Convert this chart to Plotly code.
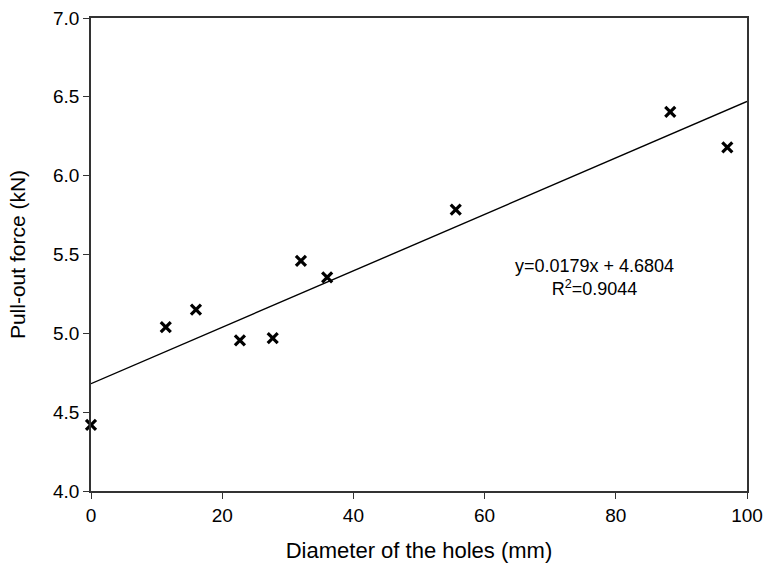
import plotly.graph_objects as go

# Hole diameter (mm) and measured pull-out force (kN)
diameter = [0, 11.4, 16.0, 22.7, 27.7, 32.0, 36.0, 55.6, 88.3, 97.0]
force = [4.42, 5.04, 5.15, 4.955, 4.97, 5.46, 5.355, 5.785, 6.405, 6.18]

# Linear fit reported on the chart
slope = 0.0179
intercept = 4.6804
r_squared = 0.9044
fit_x = [0, 100]
fit_y = [intercept + slope * v for v in fit_x]

x_ticks = [0, 20, 40, 60, 80, 100]
y_ticks = [4.0, 4.5, 5.0, 5.5, 6.0, 6.5, 7.0]

font_family = "Arial, Liberation Sans, sans-serif"

fig = go.Figure()
fig.add_trace(go.Scatter(
    x=fit_x, y=fit_y, mode="lines",
    line=dict(color="black", width=1.4),
    showlegend=False, hoverinfo="skip",
))
fig.add_trace(go.Scatter(
    x=diameter, y=force, mode="markers", cliponaxis=False,
    marker=dict(symbol="x-thin-open", size=10, color="black",
                line=dict(color="black", width=3.2)),
    showlegend=False,
))

fig.add_annotation(
    x=76.8, y=5.354, xref="x", yref="y",
    text=f"y={slope}x + {intercept}<br>R<sup>2</sup>={r_squared}",
    showarrow=False, align="center",
    font=dict(family=font_family, size=18, color="black"),
)

axis_common = dict(
    showline=True, linecolor="#333333", linewidth=1.6, mirror=True,
    ticks="outside", ticklen=6, tickwidth=1.4, tickcolor="#333333",
    showgrid=False, zeroline=False, automargin=False,
    tickfont=dict(family=font_family, size=19, color="black"),
)

fig.update_xaxes(
    range=[0, 100], tickvals=x_ticks,
    title=dict(text="Diameter of the holes (mm)", standoff=18,
               font=dict(family=font_family, size=22, color="black")),
    **axis_common,
)
fig.update_yaxes(
    range=[4.0, 7.0], tickvals=y_ticks, tickformat=".1f",
    title=dict(text="Pull-out force (kN)", standoff=22,
               font=dict(family=font_family, size=21, color="black")),
    **axis_common,
)

fig.update_layout(
    width=765, height=570,
    margin=dict(l=91, r=18, t=18, b=79),
    paper_bgcolor="white", plot_bgcolor="white",
)

fig.write_html("out.html")
